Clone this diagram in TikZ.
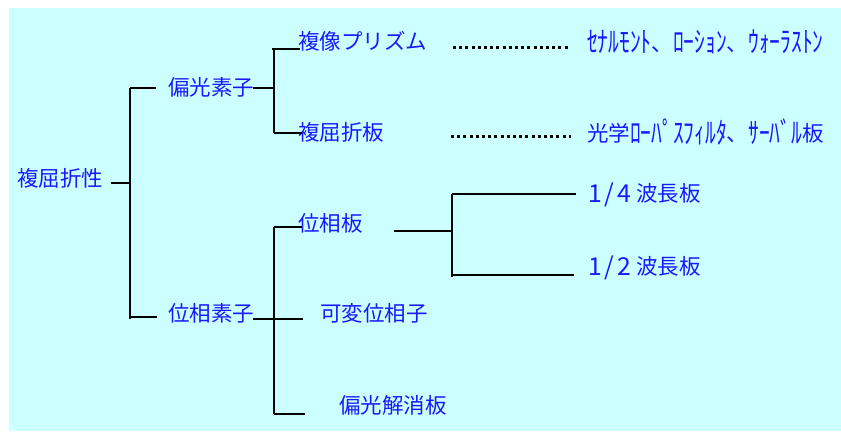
\documentclass[tikz,border=0pt]{standalone}
\usepackage{fontspec}
\newfontfamily\jp{Noto Sans CJK JP}
\definecolor{bgcyan}{RGB}{204,255,255}
\definecolor{txtblue}{RGB}{25,25,255}
\newcommand{\hw}[1]{\raisebox{-0.07em}{\scalebox{1}[1.35]{#1}}}
\newcommand{\wfrac}[2]{\raisebox{-0.04em}{\scalebox{1.15}{#1\hspace{2.5pt}/\hspace{2.5pt}#2}}\hspace{5pt}}
\begin{document}
\begin{tikzpicture}[x=1pt,y=-1pt,
  lbl/.style={anchor=west,inner sep=0pt,text=txtblue,font=\jp\fontsize{21.5}{24}\selectfont},
  ln/.style={line width=1.6pt,black},
  dotln/.style={line width=3pt,black,dash pattern=on 3pt off 3.2pt}]
\useasboundingbox (0,0) rectangle (841,432);
\fill[bgcyan] (9,8) rectangle (841,431);
% nodes
\node[lbl] (root)  at (17,178)  {複屈折性};
\node[lbl] (pol)   at (168,87)  {偏光素子};
\node[lbl] (pha)   at (168,313) {位相素子};
\node[lbl] (prism) at (298,41)  {複像プリズム};
\node[lbl] (bir)   at (298,132) {複屈折板};
\node[lbl] (pp)    at (298,223) {位相板};
\node[lbl] (var)   at (320,313) {可変位相子};
\node[lbl] (dep)   at (339,405) {偏光解消板};
\node[lbl] (q)     at (588,195) {\wfrac{1}{4}波長板};
\node[lbl] (h)     at (588,268) {\wfrac{1}{2}波長板};
\node[lbl] (ex1)   at (587,42)  {\hw{ｾﾅﾙﾓﾝﾄ}、\hw{ﾛｰｼｮﾝ}、\hw{ｳｫｰﾗｽﾄﾝ}};
\node[lbl] (ex2)   at (587,132) {光学\hw{ﾛｰﾊﾟｽﾌｨﾙﾀ}、\hw{ｻｰﾊﾞﾙ}板};
% junction coordinates
\coordinate (r0) at (111,183);
\coordinate (j0) at (130,183);
\coordinate (t0) at (130,88);
\coordinate (b0) at (130,319);
\coordinate (t0e) at (156,88);
\coordinate (b0e) at (157,317);
\coordinate (b0m) at (130,317);
\coordinate (p0) at (253,88);
\coordinate (j1) at (274,88);
\coordinate (t1) at (274,49);
\coordinate (t1s) at (272,49);
\coordinate (b1) at (274,133);
\coordinate (t1e) at (300,49);
\coordinate (b1e) at (302,133);
\coordinate (p1) at (253,319);
\coordinate (j2e) at (303,319);
\coordinate (t2) at (274,227);
\coordinate (b2) at (274,414);
\coordinate (t2e) at (302,227);
\coordinate (b2e) at (305,414);
\coordinate (p2) at (394,231);
\coordinate (j3) at (453,231);
\coordinate (t3) at (452,194);
\coordinate (b3) at (452,277);
\coordinate (t3e) at (576,194);
\coordinate (b3m) at (452,275);
\coordinate (b3e) at (574,275);
\coordinate (d1a) at (453,47);
\coordinate (d1b) at (568,47);
\coordinate (d2a) at (451,136);
\coordinate (d2b) at (571,136);
% connectors
\draw[ln] (r0) -- (j0);
\draw[ln] (t0) -- (b0);
\draw[ln] (t0) -- (t0e);
\draw[ln] (b0m) -- (b0e);
\draw[ln] (p0) -- (j1);
\draw[ln] (t1) -- (b1);
\draw[ln] (t1s) -- (t1e);
\draw[ln] (b1) -- (b1e);
\draw[ln] (p1) -- (j2e);
\draw[ln] (t2) -- (b2);
\draw[ln] (t2) -- (t2e);
\draw[ln,line width=1.2pt] (b2) -- (b2e);
\draw[ln] (p2) -- (j3);
\draw[ln] (t3) -- (b3);
\draw[ln] (t3) -- (t3e);
\draw[ln] (b3m) -- (b3e);
\draw[dotln] (d1a) -- (d1b);
\draw[dotln] (d2a) -- (d2b);
\end{tikzpicture}
\end{document}
